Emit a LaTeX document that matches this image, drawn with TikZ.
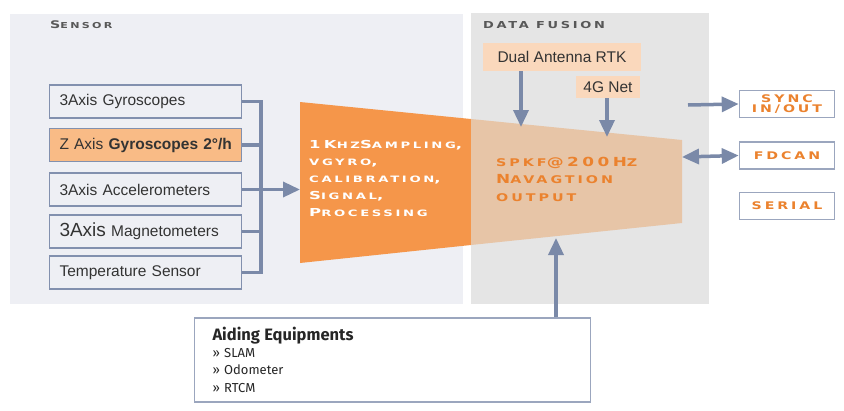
\documentclass[tikz,border=0pt]{standalone}
\usepackage{fontspec}
\setmainfont{Liberation Sans}
\newfontfamily\capfont[FakeStretch=1.35,LetterSpace=28]{DejaVu Sans}
\newfontfamily\widefont[FakeStretch=1.5,LetterSpace=30]{DejaVu Sans}
\newfontfamily\dinfont{Fira Sans}
\usetikzlibrary{arrows.meta,positioning}
\definecolor{framegray}{RGB}{130,144,174}
\definecolor{arrowgray}{RGB}{122,137,168}
\definecolor{sensorbg}{RGB}{238,239,244}
\definecolor{fusionbg}{RGB}{229,229,229}
\definecolor{procorange}{RGB}{245,150,74}
\definecolor{fusiontan}{RGB}{231,197,167}
\definecolor{peach}{RGB}{250,216,188}
\definecolor{zorange}{RGB}{249,187,134}
\definecolor{labelorange}{RGB}{235,130,46}
\definecolor{titlegray}{RGB}{88,88,88}
\newcommand\lc[1]{{\fontsize{8.2}{8.2}\selectfont #1}}
\newcommand\lcw[1]{{\fontsize{8.8}{8.8}\selectfont #1}}
\newcommand\lcb[1]{{\fontsize{10.6}{10.6}\selectfont #1}}

\begin{document}
\begin{tikzpicture}[
      x=1pt,y=-1pt,
      sensbox/.style={draw=framegray,line width=1.6pt,fill=sensorbg,minimum width=192pt,minimum height=33pt,
        text width=180pt,align=left,inner xsep=6pt,font=\fontsize{15.5}{16}\selectfont,text=black!80},
      portbox/.style={draw=framegray!80,line width=1.6pt,fill=white,minimum width=95pt,minimum height=27pt,
        align=center,inner sep=1pt,text=labelorange,font=\capfont\bfseries\fontsize{10.5}{10.5}\selectfont},
      netbox/.style={fill=peach,inner sep=0pt,font=\fontsize{15.5}{16}\selectfont,text=black!80},
      title/.style={anchor=west,text=titlegray,inner sep=0pt,font=\capfont\bfseries\fontsize{10.5}{11}\selectfont},
      bus/.style={draw=arrowgray,line width=3.5pt},
      arrow/.style={draw=arrowgray,line width=3.5pt,-{Triangle[length=17pt,width=15pt]}},
      dblarrow/.style={draw=arrowgray,line width=3.5pt,{Triangle[length=17pt,width=15pt]}-{Triangle[length=17pt,width=15pt]}}
    ]
      \useasboundingbox (0,0) rectangle (844,410);
      % panels
      \fill[sensorbg] (10,14) rectangle (463,304);
      \fill[fusionbg] (471,13) rectangle (709,304);
      \node[title] (sensortitle) at (50,25) {S\lc{ENSOR}};
      \node[title,font=\capfont\bfseries\fontsize{9.6}{11}\selectfont] (fusiontitle) at (483,25) {DATA FUSION};

      % sensors
      \node[sensbox] (gyro) at (145.5,101.5) {\hspace*{4pt}3Axis Gyroscopes};
      \node[sensbox,fill=zorange] (zaxis) at (145.5,145) {\hspace*{4pt}Z Axis \textbf{Gyroscopes 2°/h}};
      \node[sensbox] (accel) at (145.5,189.5) {\hspace*{4pt}3Axis Accelerometers};
      \node[sensbox] (magn) at (145.5,231.5) {\hspace*{4pt}{\fontsize{19}{19}\selectfont 3Axis} Magnetometers};
      \node[sensbox] (temp) at (145.5,272.5) {\hspace*{4pt}Temperature Sensor};

      % processing and fusion
      \fill[procorange] (300,102) -- (471,119) -- (471,245) -- (300,263) -- cycle;
      \fill[fusiontan] (471,119) -- (682,140) -- (682,223) -- (471,245) -- cycle;
      \node[anchor=north west,align=left,inner sep=0pt,text=white,font=\widefont\bfseries\fontsize{11}{17}\selectfont]
        (proctext) at (309,140) {1K\lcw{HZ}S\lcw{AMPLING},\\\lcw{VGYRO},\\\lcw{CALIBRATION},\\S\lcw{IGNAL},\\P\lcw{ROCESSING}};
      \node[anchor=north west,align=left,inner sep=0pt,text=labelorange,font=\capfont\bfseries\fontsize{12.5}{17.5}\selectfont]
        (fusetext) at (496,157) {\lcb{SPKF}@200H\lcb{Z}\\N\lcb{AVAGTION}\\\lcb{OUTPUT}};
      \coordinate (procin) at (300,189.5);
      \coordinate (rtkin) at (521,127);
      \coordinate (netin) at (607,137);
      \coordinate (syncout) at (688,105);
      \coordinate (fuseout) at (682,157);
      \coordinate (aidin) at (556,238);

      % inputs
      \node[netbox,minimum width=158pt,minimum height=28pt] (rtk) at (562,57) {Dual Antenna RTK};
      \node[netbox,minimum width=64pt,minimum height=22pt] (net) at (608,87) {4G Net};

      % ports
      \node[portbox] (sync) at (787,104) {SYNC\\IN/OUT};
      \node[portbox] (fdcan) at (787,155.5) {FDCAN};
      \node[portbox] (serial) at (787,206) {SERIAL};

      % aiding
      \node[draw=framegray!80,line width=1.6pt,fill=white,minimum width=395pt,minimum height=84pt,
        text width=360pt,inner xsep=18pt,align=left,font=\dinfont\fontsize{13}{17.5}\selectfont,text=black!85]
        (aid) at (392.5,360) {{\bfseries\fontsize{16.5}{18}\selectfont Aiding Equipments}\\[-1pt]» SLAM\\» Odometer\\» RTCM};

      % connectors
      \draw[bus] (gyro.east) -| (261,101.5) coordinate (bustop) -- (261,272.5) coordinate (busbot) -- (temp.east);
      \draw[bus] (zaxis.east) -- (zaxis.east -| bustop);
      \draw[bus] (magn.east) -- (magn.east -| bustop);
      \draw[arrow] (accel.east) -- (procin);
      \draw[arrow] (rtk.south -| rtkin) -- (rtkin);
      \draw[arrow] (net.south -| netin) -- (netin);
      \draw[arrow] (syncout) -- (sync.west);
      \draw[dblarrow] (fuseout) -- (fdcan.west);
      \draw[arrow] (aid.north -| aidin) -- (aidin);
    \end{tikzpicture}
\end{document}
